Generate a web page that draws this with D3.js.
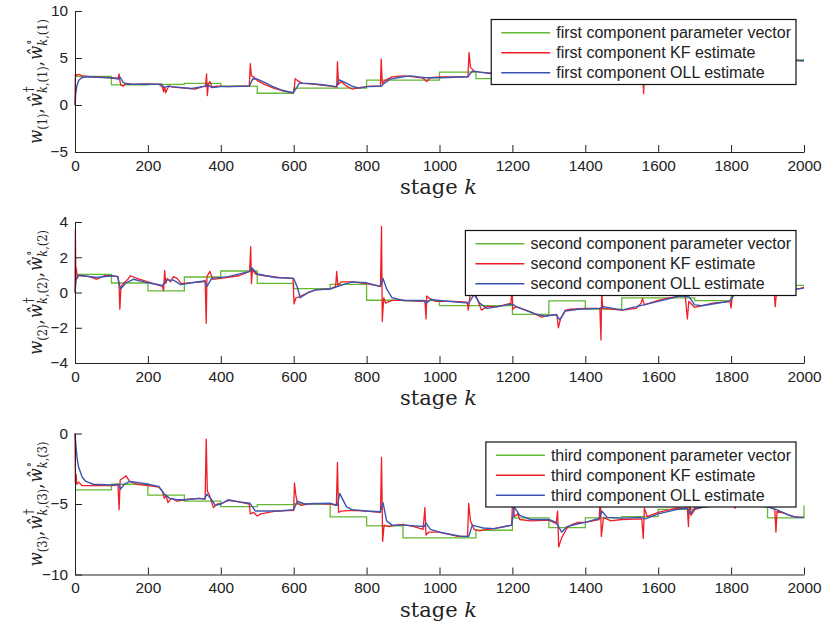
<!DOCTYPE html>
<html>
<head>
<meta charset="utf-8">
<script src="https://cdnjs.cloudflare.com/ajax/libs/d3/7.8.5/d3.min.js"></script>
<style>
body { margin: 0; background: #fff; }
svg { display: block; }
.axis path, .axis line { stroke: #222; stroke-width: 1px; }
.axis text { font-family: 'Liberation Sans', Arial, sans-serif; font-size: 15.4px; fill: #222; }
.xlabel { font-family: 'DejaVu Serif', 'Liberation Serif', serif; font-size: 21px; fill: #222; }
.ylabel text { font-family: 'DejaVu Serif', 'Liberation Serif', serif; fill: #222; }
.legend text { font-family: 'Liberation Sans', Arial, sans-serif; font-size: 16px; fill: #222; }
</style>
</head>
<body>
<svg width="825" height="626"></svg>
<script>
// **** data ****

var stages = [0, 2000];
var xTicks = [0, 200, 400, 600, 800, 1000, 1200, 1400, 1600, 1800, 2000];

// parameter vector, one value per block of 100 stages (last entry = value at k=2000)
var param1 = [3.05, 2.15, 2.2, 2.3, 2.0, 1.25, 1.8, 1.8, 2.65, 2.65, 3.5, 2.8, 3.2, 3.4, 3.6, 3.9, 4.1, 4.3, 4.5, 4.8, 4.8];
var param2 = [1.03, 0.54, 0.09, 0.88, 1.22, 0.52, 0.22, 0.46, -0.44, -0.46, -0.75, -0.75, -1.24, -0.48, -0.94, -0.3, -0.3, -0.46, 0.1, 0.4, 0.4];
var param3 = [-4.0, -3.6, -4.37, -4.8, -5.19, -5.05, -5.0, -5.92, -6.55, -7.4, -7.4, -6.86, -5.98, -6.67, -5.98, -5.9, -5.38, -5.0, -4.8, -5.98, -5.1];

var kf1 = [[0,0],[1,3.3],[4,3.15],[10,3.25],[20,3.1],[35,3.05],[50,3.0],[70,2.95],[100,2.9],[118,2.85],[121,3.3],[123,2.6],[126,2.1],[132,2.0],[140,2.3],[160,2.2],[190,2.25],[230,2.2],[240,1.9],[243,1.4],[246,1.9],[249,1.3],[253,1.7],[258,2.0],[270,1.9],[300,1.8],[330,1.7],[350,1.95],[358,2.0],[361,3.3],[363,1.0],[366,2.2],[370,2.5],[376,1.9],[390,2.0],[420,1.95],[460,2.0],[478,2.0],[481,4.4],[484,3.1],[490,3.0],[500,2.6],[520,2.2],[545,1.8],[570,1.5],[598,1.3],[601,1.5],[604,2.8],[610,2.6],[625,2.3],[660,2.2],[700,2.0],[718,1.9],[720,4.6],[723,2.2],[730,2.5],[745,2.0],[760,1.7],[780,1.85],[810,2.0],[838,2.0],[840,4.9],[843,2.3],[850,2.6],[870,3.0],[900,3.1],[930,3.0],[955,2.85],[965,2.5],[975,2.9],[1000,3.0],[1040,3.0],[1078,3.0],[1081,5.6],[1085,4.0],[1095,3.6],[1110,3.5],[1140,3.4],[1200,3.6],[1300,3.8],[1400,4.0],[1500,4.2],[1557,4.3],[1560,1.2],[1563,4.3],[1700,4.5],[1800,4.6],[1900,4.7],[1970,4.75],[2000,4.7]];
var oll1 = [[0,0],[2,1.2],[5,2.0],[10,2.6],[18,2.9],[30,3.0],[60,2.95],[100,2.9],[118,2.75],[124,2.95],[132,2.4],[145,2.2],[200,2.2],[238,2.2],[244,1.85],[255,2.0],[280,1.9],[320,1.75],[350,1.95],[360,2.0],[364,2.15],[376,1.85],[400,1.95],[478,2.0],[488,2.8],[500,2.75],[520,2.4],[540,2.0],[565,1.6],[598,1.3],[606,1.7],[615,2.3],[640,2.3],[680,2.15],[718,1.95],[724,2.7],[740,2.4],[760,2.0],[780,1.8],[800,1.95],[840,2.0],[848,2.3],[865,2.75],[900,3.0],[920,3.1],[960,2.9],[1000,2.9],[1078,3.0],[1090,3.6],[1110,3.5],[1140,3.35],[1200,3.55],[1300,3.75],[1400,3.95],[1500,4.15],[1560,4.25],[1700,4.45],[1800,4.55],[1900,4.65],[1970,4.75],[2000,4.7]];

var kf2 = [[0,0],[1,3.6],[2,1.5],[4,1.3],[6,0.8],[10,0.95],[20,0.95],[40,0.9],[60,0.75],[80,0.95],[100,0.95],[118,0.9],[121,0.3],[123,-0.95],[126,0.3],[132,0.5],[145,0.75],[152,0.95],[170,0.8],[200,0.6],[240,0.35],[243,0.1],[246,1.25],[249,0.5],[253,0.8],[262,0.6],[270,0.9],[280,0.8],[292,0.5],[310,0.55],[350,0.6],[357,0.7],[360,-1.75],[362,0.9],[370,1.2],[378,0.75],[400,0.8],[450,0.95],[479,1.2],[482,2.6],[484,0.5],[487,1.3],[495,1.05],[520,0.95],[560,0.85],[598,0.8],[601,-0.65],[606,-0.3],[615,-0.25],[640,0.0],[660,0.15],[700,0.2],[715,0.35],[718,1.2],[721,0.4],[730,0.6],[760,0.6],[800,0.5],[838,0.35],[841,3.75],[843,-1.65],[847,-0.3],[852,-0.6],[870,-0.45],[900,-0.45],[950,-0.5],[960,-0.45],[963,-1.5],[965,-0.2],[970,-0.3],[990,-0.5],[1040,-0.5],[1076,-0.55],[1079,-1.0],[1083,-0.3],[1092,0.6],[1102,-0.3],[1115,-1.0],[1130,-0.8],[1160,-0.8],[1196,-0.6],[1199,0.5],[1201,-0.95],[1210,-0.8],[1250,-1.1],[1280,-1.4],[1300,-1.3],[1322,-1.25],[1326,-2.0],[1332,-1.5],[1345,-1.0],[1360,-0.95],[1400,-0.9],[1440,-0.9],[1443,-2.7],[1445,0.0],[1448,-0.9],[1500,-1.0],[1540,-0.9],[1553,-0.6],[1557,-0.35],[1562,-0.7],[1600,-0.45],[1630,-0.3],[1674,-0.15],[1680,-1.5],[1684,-0.5],[1700,-0.85],[1720,-0.75],[1750,-0.6],[1780,-0.55],[1797,-0.5],[1800,-0.88],[1804,-0.1],[1850,0.0],[1900,0.1],[1918,0.15],[1921,-0.8],[1925,0.1],[1960,0.15],[1990,0.22],[2000,0.3]];
var oll2 = [[0,0],[3,0.7],[8,1.0],[20,0.95],[60,0.85],[100,0.95],[117,0.9],[125,0.2],[140,0.55],[160,0.75],[200,0.55],[240,0.4],[250,0.7],[270,0.7],[290,0.45],[320,0.55],[355,0.65],[362,0.35],[375,0.8],[420,0.9],[480,1.2],[485,1.4],[500,1.05],[550,0.85],[600,0.8],[610,0.3],[618,-0.3],[640,0.0],[660,0.15],[700,0.2],[730,0.4],[760,0.6],[800,0.55],[838,0.35],[845,0.8],[855,0.2],[870,-0.3],[900,-0.45],[955,-0.45],[965,-0.6],[975,-0.4],[1000,-0.45],[1080,-0.6],[1095,-0.1],[1110,-0.6],[1130,-0.9],[1160,-0.8],[1200,-0.65],[1210,-0.8],[1260,-1.2],[1290,-1.35],[1320,-1.25],[1330,-1.55],[1345,-1.05],[1380,-0.95],[1440,-0.9],[1450,-0.8],[1500,-1.0],[1560,-0.7],[1600,-0.5],[1660,-0.2],[1685,-0.25],[1700,-0.7],[1720,-0.75],[1795,-0.5],[1810,-0.1],[1850,0.0],[1900,0.1],[1960,0.15],[2000,0.25]];

var kf3 = [[0,0],[1,-3.5],[3,-2.9],[5,-3.6],[10,-3.45],[20,-3.7],[50,-3.7],[100,-3.7],[118,-3.65],[121,-5.4],[124,-3.3],[135,-3.1],[140,-3.0],[150,-3.4],[170,-3.6],[200,-3.7],[230,-3.8],[240,-4.1],[245,-4.6],[250,-4.4],[255,-4.9],[265,-4.6],[280,-4.8],[300,-4.7],[340,-4.6],[357,-4.65],[360,-0.4],[363,-4.1],[368,-4.3],[375,-4.9],[380,-5.25],[390,-5.0],[400,-5.0],[420,-4.75],[450,-4.85],[478,-5.0],[481,-5.7],[490,-5.6],[500,-5.85],[510,-5.7],[550,-5.5],[600,-5.45],[602,-3.5],[606,-4.4],[610,-4.9],[620,-5.1],[650,-4.95],[700,-5.0],[717,-5.1],[720,-2.05],[723,-5.6],[730,-5.5],[760,-5.45],[800,-5.5],[838,-5.6],[841,-1.7],[844,-7.65],[848,-6.5],[860,-6.6],[880,-6.5],[900,-6.45],[930,-6.6],[955,-6.8],[960,-5.25],[963,-7.2],[970,-7.0],[1000,-7.0],[1050,-7.3],[1077,-7.3],[1080,-4.95],[1085,-6.2],[1095,-6.8],[1110,-6.9],[1130,-6.8],[1150,-6.75],[1198,-6.5],[1201,-4.2],[1205,-5.9],[1215,-5.7],[1220,-6.1],[1250,-6.2],[1300,-6.15],[1320,-6.4],[1324,-5.5],[1327,-8.05],[1335,-7.4],[1350,-6.7],[1360,-6.5],[1380,-6.3],[1400,-6.3],[1438,-6.1],[1441,-4.5],[1444,-7.3],[1450,-5.95],[1470,-6.2],[1500,-6.1],[1555,-6.05],[1559,-7.45],[1562,-5.3],[1570,-5.9],[1600,-5.6],[1650,-5.3],[1680,-5.3],[1683,-6.6],[1686,-4.6],[1690,-5.8],[1700,-5.4],[1750,-5.0],[1808,-5.0],[1811,-5.3],[1815,-5.0],[1890,-4.9],[1900,-5.1],[1920,-5.4],[1923,-7.0],[1926,-5.5],[1950,-5.7],[1970,-5.9],[2000,-5.95]];
var oll3 = [[0,0],[3,-1.0],[6,-1.8],[10,-2.4],[20,-3.1],[30,-3.4],[50,-3.6],[100,-3.65],[120,-3.6],[125,-3.95],[135,-3.6],[150,-3.4],[180,-3.5],[200,-3.6],[230,-3.75],[245,-4.3],[260,-4.6],[280,-4.7],[300,-4.7],[340,-4.6],[355,-4.65],[362,-4.3],[375,-4.7],[385,-5.1],[400,-5.0],[420,-4.7],[450,-4.85],[480,-4.95],[495,-5.5],[510,-5.5],[560,-5.5],[600,-5.4],[610,-4.8],[630,-5.0],[700,-4.95],[720,-5.1],[726,-4.25],[745,-5.2],[760,-5.4],[800,-5.5],[838,-5.55],[845,-4.9],[855,-6.2],[870,-6.5],[900,-6.5],[958,-6.6],[963,-6.35],[975,-6.8],[1000,-7.0],[1060,-7.3],[1080,-7.3],[1090,-6.5],[1105,-6.6],[1120,-6.7],[1150,-6.75],[1198,-6.5],[1205,-5.2],[1220,-5.8],[1250,-6.1],[1300,-6.1],[1320,-6.3],[1335,-7.0],[1350,-6.6],[1380,-6.4],[1400,-6.3],[1440,-6.0],[1445,-5.5],[1460,-5.95],[1500,-6.0],[1550,-5.95],[1565,-6.05],[1600,-5.7],[1650,-5.4],[1680,-5.3],[1688,-5.7],[1700,-5.3],[1800,-5.0],[1900,-5.2],[1925,-5.4],[1960,-5.8],[1980,-5.95],[2000,-5.95]];

var yDomains = [[-5, 10], [-4, 4], [-10, 0]];
var yTicks = [[-5, 0, 5, 10], [-4, -2, 0, 2, 4], [-10, -5, 0]];
var ordinals = ['first', 'second', 'third'];
var legendNames = ['component parameter vector', 'component KF estimate', 'component OLL estimate'];

var colors = ['#63b936', '#ee1f26', '#3b55b2'];

// **** layout ****
var svg = d3.select('svg');
var left = 75, right = 804, plotH = 141;
var tops = [11, 222, 433.5];

var xScale = d3.scaleLinear().domain(stages).range([left, right]);

var panels = [
    {param: param1, kf: kf1, oll: oll1},
    {param: param2, kf: kf2, oll: oll2},
    {param: param3, kf: kf3, oll: oll3}
];

panels.forEach(function(p, i) {
    var top = tops[i];
    var yScale = d3.scaleLinear().domain(yDomains[i]).range([top + plotH, top]);

    var line = d3.line()
        .x(function(d) { return xScale(d[0]); })
        .y(function(d) { return yScale(d[1]); });

    // parameter vector as a staircase
    var steps = p.param.map(function(v, j) { return [j * 100, v]; });
    svg.append('path')
        .attr('d', line.curve(d3.curveStepAfter)(steps))
        .attr('fill', 'none').attr('stroke', colors[0]).attr('stroke-width', 1.3);
    line.curve(d3.curveLinear);

    svg.append('path')
        .attr('d', line(p.kf))
        .attr('fill', 'none').attr('stroke', colors[1]).attr('stroke-width', 1.3)
        .attr('stroke-linejoin', 'round');

    svg.append('path')
        .attr('d', line(p.oll))
        .attr('fill', 'none').attr('stroke', colors[2]).attr('stroke-width', 1.4)
        .attr('stroke-linejoin', 'round');

    // axes, ticks pointing inward
    svg.append('g').attr('class', 'x axis')
        .attr('transform', 'translate(0,' + (top + plotH) + ')')
        .call(d3.axisBottom(xScale).tickValues(xTicks).tickFormat(d3.format('d'))
            .tickSizeInner(-7).tickSizeOuter(0).tickPadding(8));

    svg.append('g').attr('class', 'y axis')
        .attr('transform', 'translate(' + left + ',0)')
        .call(d3.axisLeft(yScale).tickValues(yTicks[i])
            .tickSizeInner(-7).tickSizeOuter(0).tickPadding(7));

    var xl = svg.append('text').attr('class', 'xlabel')
        .attr('x', 438.5).attr('y', top + plotH + 42)
        .attr('text-anchor', 'middle');
    xl.append('tspan').text('stage ');
    xl.append('tspan').style('font-style', 'italic').text('k');

    yLabel(i + 1, 42, top + plotH / 2);

    // legend
    var lg = svg.append('g').attr('class', 'legend');
    var box = lg.append('rect');
    var texts = legendNames.map(function(name, j) {
        return lg.append('text').text(ordinals[i] + ' ' + name)
            .attr('y', top + 8.5 + 13.3 + j * 20).attr('dy', '0.35em');
    });
    var w = d3.max(texts, function(t) { return t.node().getComputedTextLength(); });
    var boxRight = 796, textX = boxRight - 5 - w, lineX1 = textX - 6, lineX0 = lineX1 - 49;
    texts.forEach(function(t, j) {
        t.attr('x', textX);
        lg.append('line')
            .attr('x1', lineX0).attr('x2', lineX1)
            .attr('y1', top + 8.5 + 13.3 + j * 20).attr('y2', top + 8.5 + 13.3 + j * 20)
            .attr('stroke', colors[j]).attr('stroke-width', 1.4);
    });
    box.attr('x', lineX0 - 10).attr('y', top + 8.5)
        .attr('width', boxRight - lineX0 + 10).attr('height', 65)
        .attr('fill', '#fff').attr('stroke', '#111').attr('stroke-width', 1.2);
});

// rotated math label  w_(n), ŵ^†_{k,(n)}, ŵ^∘_{k,(n)}, stretched to ~125px long
function yLabel(n, cx, cy) {
    var g = svg.append('g').attr('class', 'ylabel')
        .attr('transform', 'translate(' + cx + ',' + cy + ') rotate(-90)');
    var inner = g.append('g');
    var S = 19, s = 13, x = 0;
    function put(txt, size, italic, dy, atX) {
        var t = inner.append('text').attr('x', atX).attr('y', dy)
            .style('font-size', size + 'px')
            .style('font-style', italic ? 'italic' : 'normal')
            .text(txt);
        return t.node().getComputedTextLength();
    }
    x += put('w', S, true, 0, x);
    x += put('(' + n + ')', s, false, 5, x);
    x += put(',', S, false, 0, x) + 1;
    ['\u2020', '\u2218'].forEach(function(sup, j) {
        x += put('\u0175', S, true, 0, x);
        var x0 = x;
        var w1 = put(sup, s, false, -9, x0 + 1);
        var w2 = put('k', s, true, 5, x0);
        w2 += put(',(' + n + ')', s, false, 5, x0 + w2);
        x = x0 + Math.max(w1, w2);
        if (j === 0) x += put(',', S, false, 0, x) + 1;
    });
    var k = 125 / x;
    inner.attr('transform', 'scale(' + k + ',1) translate(' + (-x / 2) + ',0)');
}
</script>
</body>
</html>
